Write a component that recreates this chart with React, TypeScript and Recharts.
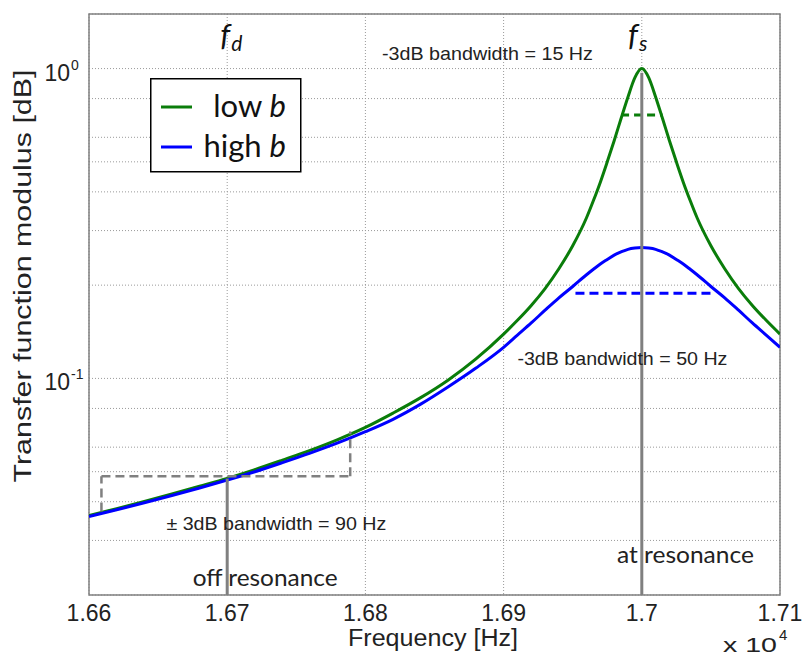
import {
  CartesianGrid,
  Label,
  Legend,
  Line,
  LineChart,
  ReferenceArea,
  ReferenceDot,
  ReferenceLine,
  XAxis,
  YAxis,
} from "recharts";

// frequency grid [Hz] and transfer function modulus
const freqHz = [
  16600, 16620, 16640, 16660, 16680, 16700, 16720, 16740, 16760, 16780, 16800,
  16820, 16840, 16860, 16880, 16900, 16910, 16920, 16930, 16940, 16950, 16960,
  16965, 16970, 16975, 16980, 16985, 16990, 16995, 17000, 17005, 17010, 17015,
  17020, 17025, 17030, 17035, 17040, 17050, 17060, 17070, 17080, 17090, 17100,
];
const lowB = [
  0.0361, 0.038, 0.0401, 0.0424, 0.0449, 0.0476, 0.0508, 0.0545, 0.0586,
  0.0635, 0.0695, 0.0773, 0.0867, 0.0989, 0.1156, 0.139, 0.154, 0.172, 0.195,
  0.226, 0.268, 0.33, 0.375, 0.43, 0.5, 0.585, 0.69, 0.81, 0.935, 1.0, 0.935,
  0.81, 0.69, 0.585, 0.5, 0.43, 0.375, 0.33, 0.268, 0.226, 0.195, 0.172, 0.154,
  0.139,
];
const highB = [
  0.0358, 0.0377, 0.0397, 0.0419, 0.0443, 0.047, 0.05, 0.0535, 0.0574, 0.0619,
  0.0673, 0.0738, 0.0826, 0.094, 0.108, 0.126, 0.138, 0.151, 0.166, 0.182,
  0.198, 0.216, 0.225, 0.234, 0.242, 0.25, 0.256, 0.261, 0.2635, 0.2645,
  0.2635, 0.261, 0.256, 0.25, 0.242, 0.234, 0.225, 0.216, 0.198, 0.182, 0.166,
  0.151, 0.138, 0.126,
];

const xTicks = [16600, 16700, 16800, 16900, 17000, 17100];
const yTicks = [
  0.02, 0.03, 0.04, 0.05, 0.06, 0.07, 0.08, 0.09, 0.1, 0.2, 0.3, 0.4, 0.5, 0.6,
  0.7, 0.8, 0.9, 1,
];
const yTickLabels = [
  { value: 1, exp: "0" },
  { value: 0.1, exp: "-1" },
];

// marker lines
const offResonance = [
  { x: 16700, y: 0.02 },
  { x: 16700, y: 0.0475 },
];
const atResonance = [
  { x: 17000, y: 0.02 },
  { x: 17000, y: 0.97 },
];
const lowBand = [
  { x: 16985, y: 0.708 },
  { x: 17015, y: 0.708 },
];
const highBand = [
  { x: 16952, y: 0.1884 },
  { x: 17051, y: 0.1884 },
];
const offBandBox = [
  { x: 16609, y: 0.0372 },
  { x: 16609, y: 0.0483 },
  { x: 16789, y: 0.0483 },
  { x: 16789, y: 0.0674 },
];

const data = freqHz.map((f, i) => ({ f, low: lowB[i], high: highB[i] }));

const ARIAL = "'Liberation Sans', Arial, sans-serif";
const CALIBRI = "Lato, 'Open Sans', sans-serif";
const GREEN = "#0a7d0a";
const BLUE = "#0000ff";
const GRAY = "#808080";

const fmtX = (v: number) => String(parseFloat((v / 10000).toFixed(2)));

const XTick = ({ x, y, payload }: any) => (
  <text x={x} y={y + 26} textAnchor="middle" fontSize={23} fontFamily={ARIAL} fill="#222">
    {fmtX(payload.value)}
  </text>
);

const YTick = ({ x, y, payload }: any) => {
  const lab = yTickLabels.find((t) => Math.abs(t.value - payload.value) < 1e-9);
  if (!lab) return <g />;
  return (
    <g fontFamily={ARIAL} fill="#222">
      <text x={x - 19} y={y + 12} textAnchor="end" fontSize={23}>
        10
      </text>
      <text x={x - 18} y={y + 1} fontSize={14}>
        {lab.exp}
      </text>
    </g>
  );
};

const note =
  (text: string, width: number, size: number, family: string) =>
  ({ viewBox }: any) => (
    <text
      x={viewBox.x}
      y={viewBox.y}
      fontSize={size}
      fontFamily={family}
      fill="#222"
      textLength={width}
      lengthAdjust="spacingAndGlyphs"
    >
      {text}
    </text>
  );

const freqSymbol =
  (sub: string) =>
  ({ viewBox }: any) => (
    <text x={viewBox.x} y={viewBox.y} fontFamily={CALIBRI} fill="#111" fontStyle="italic">
      <tspan fontSize={31}>f</tspan>
      <tspan fontSize={21} dx={1} dy={5}>
        {sub}
      </tspan>
    </text>
  );

const XAxisLabel = ({ viewBox }: any) => (
  <g fontFamily={ARIAL} fill="#222">
    <text
      x={viewBox.x + 259}
      y={viewBox.y + 51}
      fontSize={23}
      textLength={170}
      lengthAdjust="spacingAndGlyphs"
    >
      Frequency [Hz]
    </text>
    <text
      x={viewBox.x + 634}
      y={viewBox.y + 57}
      fontSize={20}
      textLength={54}
      lengthAdjust="spacingAndGlyphs"
    >
      x 10
    </text>
    <text x={viewBox.x + 690} y={viewBox.y + 45} fontSize={15}>
      4
    </text>
  </g>
);

const YAxisLabel = () => {
  const cx = 23;
  const cy = 276;
  return (
    <text
      x={cx}
      y={cy}
      transform={`rotate(-90 ${cx} ${cy})`}
      textAnchor="middle"
      dominantBaseline="central"
      fontSize={23}
      fontFamily={ARIAL}
      fill="#222"
      textLength={413}
      lengthAdjust="spacingAndGlyphs"
    >
      Transfer function modulus [dB]
    </text>
  );
};

const LegendBox = ({ payload }: any) => {
  const items = [...(payload || [])].sort((a: any, b: any) =>
    a.dataKey === "low" ? -1 : b.dataKey === "low" ? 1 : 0
  );
  return (
    <svg width={152} height={95}>
      <rect x={0.75} y={0.75} width={150} height={93} fill="#fff" stroke="#000" strokeWidth={1.5} />
      {items.map((entry: any, i: number) => {
        const [word, letter] = String(entry.value).split(" ");
        const ly = 29 + i * 40;
        return (
          <g key={entry.value}>
            <line x1={11} x2={42} y1={ly} y2={ly} stroke={entry.color} strokeWidth={3} />
            <text
              x={136}
              y={ly + 10}
              textAnchor="end"
              fontSize={31}
              fontFamily={CALIBRI}
              fill="#111"
            >
              {word} <tspan fontStyle="italic">{letter}</tspan>
            </text>
          </g>
        );
      })}
    </svg>
  );
};

export default function App() {
  return (
    <div style={{ position: "absolute", left: 0, top: 0, background: "#fff" }}>
      <LineChart
        width={804}
        height={658}
        data={data}
        margin={{ top: 14, right: 24, bottom: 33, left: 29 }}
      >
        <CartesianGrid stroke="#9a9a9a" strokeDasharray="1 2" />
        <XAxis
          dataKey="f"
          type="number"
          domain={[16600, 17100]}
          ticks={xTicks}
          tick={<XTick />}
          tickLine={false}
          tickSize={0}
          tickMargin={0}
          axisLine={false}
          height={30}
          allowDataOverflow
        >
          <Label content={<XAxisLabel />} />
        </XAxis>
        <YAxis
          scale="log"
          type="number"
          domain={[0.02, 1.5]}
          ticks={yTicks}
          tick={<YTick />}
          tickLine={false}
          tickSize={0}
          tickMargin={0}
          axisLine={false}
          width={60}
          allowDataOverflow
        >
          <Label content={<YAxisLabel />} />
        </YAxis>
        <ReferenceArea
          x1={16600}
          x2={17100}
          y1={0.02}
          y2={1.5}
          fill="none"
          stroke={GRAY}
          strokeWidth={1.5}
          fillOpacity={0}
        />
        <Line
          type="monotone"
          dataKey="low"
          name="low b"
          stroke={GREEN}
          strokeWidth={3}
          dot={false}
          isAnimationActive={false}
        />
        <Line
          type="monotone"
          dataKey="high"
          name="high b"
          stroke={BLUE}
          strokeWidth={3}
          dot={false}
          isAnimationActive={false}
        />
        <ReferenceLine segment={lowBand} stroke={GREEN} strokeWidth={3} strokeDasharray="8 5" />
        <ReferenceLine segment={highBand} stroke={BLUE} strokeWidth={3} strokeDasharray="9 5" />
        {offBandBox.slice(1).map((p, i) => (
          <ReferenceLine
            key={i}
            segment={[offBandBox[i], p]}
            stroke={GRAY}
            strokeWidth={2.5}
            strokeDasharray="9 5"
          />
        ))}
        <ReferenceLine segment={offResonance} stroke={GRAY} strokeWidth={3} />
        <ReferenceLine segment={atResonance} stroke={GRAY} strokeWidth={3} />

        <ReferenceDot x={16695} y={1.183} r={0} fill="none" stroke="none">
          <Label content={freqSymbol("d")} />
        </ReferenceDot>
        <ReferenceDot x={16990} y={1.183} r={0} fill="none" stroke="none">
          <Label content={freqSymbol("s")} />
        </ReferenceDot>
        <ReferenceDot x={16812} y={1.066} r={0} fill="none" stroke="none">
          <Label content={note("-3dB bandwidth = 15 Hz", 211, 19, ARIAL)} />
        </ReferenceDot>
        <ReferenceDot x={16910} y={0.1106} r={0} fill="none" stroke="none">
          <Label content={note("-3dB bandwidth = 50 Hz", 210, 19, ARIAL)} />
        </ReferenceDot>
        <ReferenceDot x={16656} y={0.0325} r={0} fill="none" stroke="none">
          <Label content={note("\u00b1 3dB bandwidth = 90 Hz", 220, 19, ARIAL)} />
        </ReferenceDot>
        <ReferenceDot x={16675} y={0.02143} r={0} fill="none" stroke="none">
          <Label content={note("off resonance", 145, 24, CALIBRI)} />
        </ReferenceDot>
        <ReferenceDot x={16982} y={0.0254} r={0} fill="none" stroke="none">
          <Label content={note("at resonance", 137, 24, CALIBRI)} />
        </ReferenceDot>

        <Legend
          layout="vertical"
          align="center"
          verticalAlign="middle"
          content={<LegendBox />}
          wrapperStyle={{ position: "absolute", left: 150, top: 78, width: 152, height: 95 }}
        />
      </LineChart>
    </div>
  );
}
